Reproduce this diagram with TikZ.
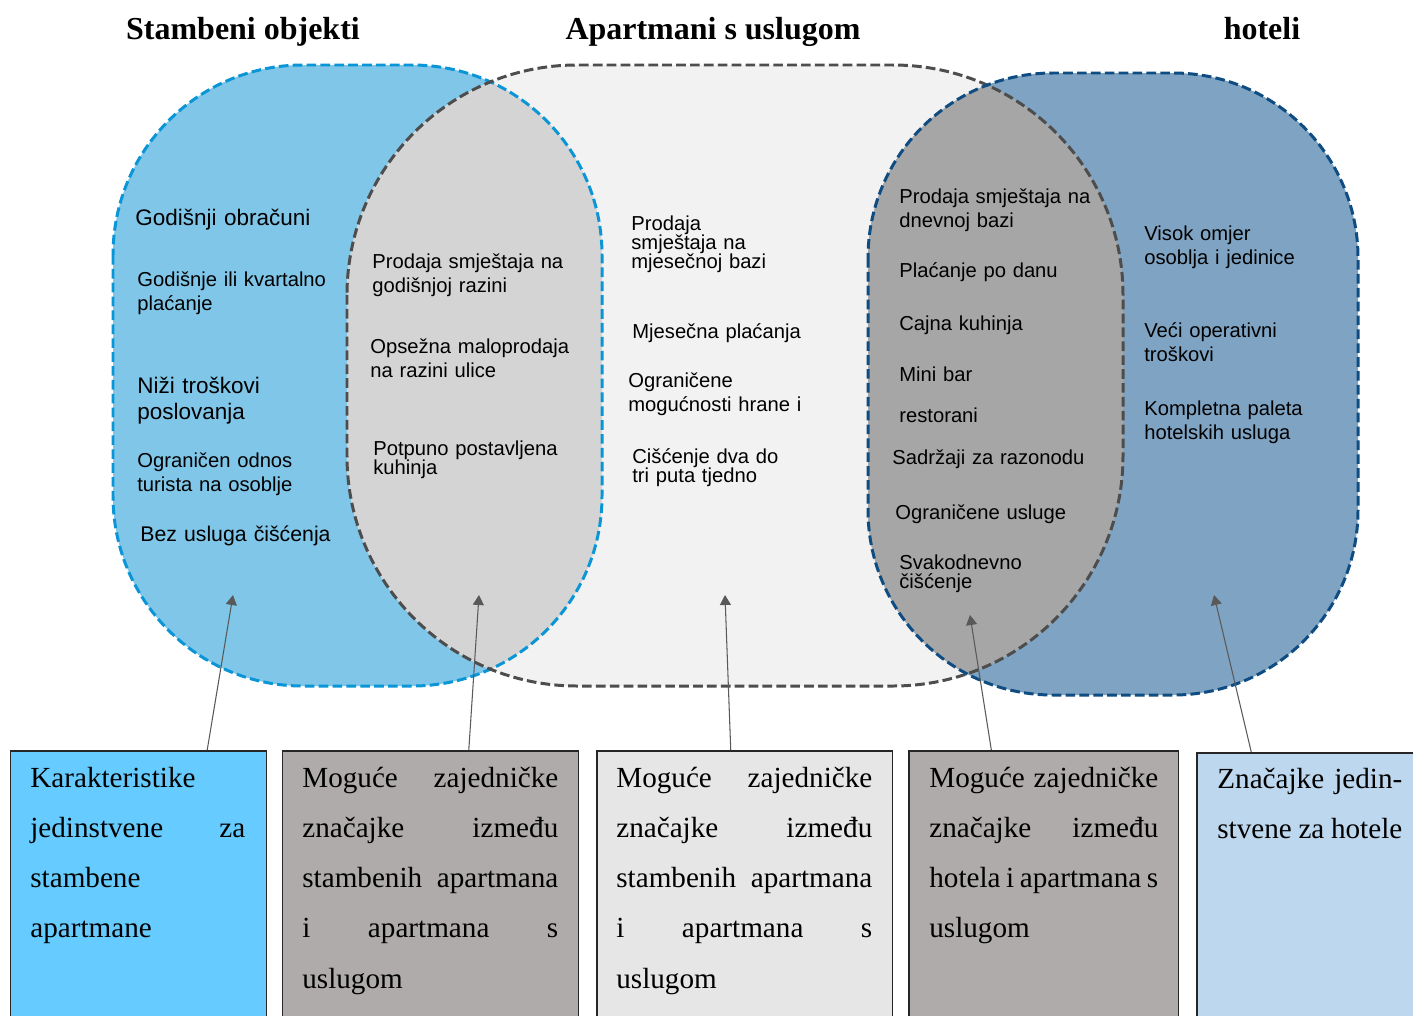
\documentclass[tikz,border=0pt]{standalone}
\usepackage{fontspec}
\setmainfont{Liberation Serif}
\newfontfamily\arialf{Liberation Sans}
\usetikzlibrary{arrows.meta,calc}

\definecolor{stamfill}{HTML}{7FC6E8}
\definecolor{stamline}{HTML}{0A96D6}
\definecolor{aptfill}{HTML}{F2F2F2}
\definecolor{aptline}{HTML}{4D4D4D}
\definecolor{hotfill}{HTML}{7FA3C2}
\definecolor{hotline}{HTML}{0F4C81}
\definecolor{ovlstam}{HTML}{D4D4D4}
\definecolor{ovlhot}{HTML}{A6A6A6}
\definecolor{boxstam}{HTML}{66CCFF}
\definecolor{boxmix}{HTML}{AFABAB}
\definecolor{boxapt}{HTML}{E7E6E6}
\definecolor{boxhot}{HTML}{BDD7EE}
\definecolor{boxline}{HTML}{262626}
\definecolor{arrowgray}{HTML}{595959}

% the three areas of the diagram
\newcommand{\stambeniarea}{(113,65) rectangle (602,686)}
\newcommand{\apartarea}{(347,65) rectangle (1123,686)}
\newcommand{\hotelarea}{(868,73) rectangle (1358,695)}

% lines closer together than the font size
\newcommand{\tightlines}{\fontsize{11.5}{10.9}\selectfont\lineskiplimit=-8pt\relax}
\newcommand{\nohyph}{\hyphenpenalty=10000\relax}

\tikzset{
  stamround/.style={rounded corners=3.8cm},
  aptround/.style={rounded corners=4.6cm},
  hotround/.style={rounded corners=3.7cm},
  shapeborder/.style={line width=1.7pt, dash pattern=on 5.5pt off 2.4pt},
  title/.style={font=\bfseries\fontsize{18.2}{20}\selectfont, anchor=base, inner sep=0pt},
  itemtext/.style={font=\arialf\fontsize{11.5}{14.2}\selectfont, text width=4.6cm, align=left, inner sep=0pt, anchor=base west},
  bigitem/.style={itemtext, font=\arialf\fontsize{12.8}{14.8}\selectfont},
  tightitem/.style={itemtext, font=\arialf\tightlines},
  featbox/.style={draw=boxline, line width=0.85pt, anchor=north west, minimum height=6cm, inner sep=0pt},
  boxtext/.style={font=\fontsize{16.6}{28.6}\selectfont\nohyph, align=justify, inner sep=0pt, anchor=base west},
  pointer/.style={draw=arrowgray, line width=0.6pt, -{Triangle[length=0.2cm,width=0.22cm]}}
}

\begin{document}
\begin{tikzpicture}[x=0.02cm,y=-0.02cm]
  % Fix the page to the size of the diagram
  \useasboundingbox (0,0) rectangle (1413,1015);
  \fill[white] (0,0) rectangle (1413,1015);

  % Fill the areas and their overlaps
  \fill[stamfill, stamround] \stambeniarea;
  \fill[aptfill, aptround] \apartarea;
  \begin{scope}
    \clip[stamround] \stambeniarea;
    \fill[ovlstam, aptround] \apartarea;
  \end{scope}
  \fill[hotfill, hotround] \hotelarea;
  \begin{scope}
    \clip[hotround] \hotelarea;
    \fill[ovlhot, aptround] \apartarea;
  \end{scope}

  % Dashed borders
  \draw[shapeborder, stamline, stamround] \stambeniarea;
  \draw[shapeborder, aptline, aptround] \apartarea;
  \draw[shapeborder, hotline, hotround] \hotelarea;

  % Titles
  \node[title] (tStam) at (243,39) {Stambeni objekti};
  \node[title] (tApt) at (713,39) {Apartmani s uslugom};
  \node[title] (tHot) at (1262,39) {hoteli};

  % Stambeni objekti only
  \node[bigitem] (s1) at (135,225) {Godišnji obračuni};
  \node[itemtext] (s2) at (137,286) {Godišnje ili kvartalno\\plaćanje};
  \node[bigitem] (s3) at (137,393) {Niži troškovi\\poslovanja};
  \node[itemtext] (s4) at (137,467) {Ograničen odnos\\turista na osoblje};
  \node[itemtext, font=\arialf\fontsize{12.1}{14.2}\selectfont] (s5) at (140,541) {Bez usluga čišćenja};

  % Stambeni objekti and apartmani
  \node[itemtext] (sa1) at (372,268) {Prodaja smještaja na\\godišnjoj razini};
  \node[itemtext] (sa2) at (370,353) {Opsežna maloprodaja\\na razini ulice};
  \node[tightitem] (sa3) at (373,455) {Potpuno postavljena\\kuhinja};

  % Apartmani s uslugom only
  \node[tightitem] (a1) at (631,230) {Prodaja\\smještaja na\\mjesečnoj bazi};
  \node[itemtext] (a2) at (632,338) {Mjesečna plaćanja};
  \node[itemtext] (a3) at (628,387) {Ograničene\\mogućnosti hrane i};
  \node[tightitem] (a4) at (632,463) {Cišćenje dva do\\tri puta tjedno};

  % Hoteli and apartmani
  \node[itemtext] (ha1) at (899,203) {Prodaja smještaja na\\dnevnoj bazi};
  \node[itemtext] (ha2) at (899,277) {Plaćanje po danu};
  \node[itemtext] (ha3) at (899,330) {Cajna kuhinja};
  \node[itemtext] (ha4) at (899,381) {Mini bar};
  \node[itemtext] (ha5) at (899,422) {restorani};
  \node[itemtext] (ha6) at (892,464) {Sadržaji za razonodu};
  \node[itemtext] (ha7) at (895,519) {Ograničene usluge};
  \node[tightitem] (ha8) at (899,569) {Svakodnevno\\čišćenje};

  % Hoteli only
  \node[itemtext] (h1) at (1144,240) {Visok omjer\\osoblja i jedinice};
  \node[itemtext] (h2) at (1144,337) {Veći operativni\\troškovi};
  \node[itemtext] (h3) at (1144,415) {Kompletna paleta\\hotelskih usluga};

  % Boxes at the bottom
  \node[featbox, fill=boxstam, minimum width=5.12cm] (bStam) at (10,750) {};
  \node[featbox, fill=boxmix, minimum width=5.92cm] (bStamApt) at (282,750) {};
  \node[featbox, fill=boxapt, minimum width=5.92cm] (bApt) at (596,750) {};
  \node[featbox, fill=boxmix, minimum width=5.4cm] (bHotApt) at (908,750) {};
  \node[featbox, fill=boxhot, minimum width=4.5cm] (bHot) at (1196,752) {};

  \node[boxtext, text width=4.3cm] (bStamT) at (30,787)
    {Karakteristike\linebreak jedinstvene za\linebreak stambene\linebreak apartmane};
  \node[boxtext, text width=5.12cm] (bStamAptT) at (302,787)
    {Moguće zajedničke\linebreak značajke između\linebreak stambenih apartmana\linebreak i apartmana s\linebreak uslugom};
  \node[boxtext, text width=5.12cm] (bAptT) at (616,787)
    {Moguće zajedničke\linebreak značajke između\linebreak stambenih apartmana\linebreak i apartmana s\linebreak uslugom};
  \node[boxtext, text width=4.58cm] (bHotAptT) at (929,787)
    {Moguće zajedničke\linebreak značajke između\linebreak hotela i apartmana s\linebreak uslugom};
  \node[boxtext, text width=3.7cm] (bHotT) at (1217,788)
    {Značajke jedin-\linebreak stvene za hotele};

  % Arrows from the boxes into the areas
  \coordinate (pStam) at (233,595);
  \coordinate (pStamApt) at (479,595);
  \coordinate (pApt) at (725,595);
  \coordinate (pHotApt) at (970,615);
  \coordinate (pHot) at (1214,595);

  \draw[pointer] ($(bStam.north west)!0.766!(bStam.north east)$) -- (pStam);
  \draw[pointer] ($(bStamApt.north west)!0.628!(bStamApt.north east)$) -- (pStamApt);
  \draw[pointer] ($(bApt.north west)!0.453!(bApt.north east)$) -- (pApt);
  \draw[pointer] ($(bHotApt.north west)!0.307!(bHotApt.north east)$) -- (pHotApt);
  \draw[pointer] ($(bHot.north west)!0.244!(bHot.north east)$) -- (pHot);
\end{tikzpicture}
\end{document}
